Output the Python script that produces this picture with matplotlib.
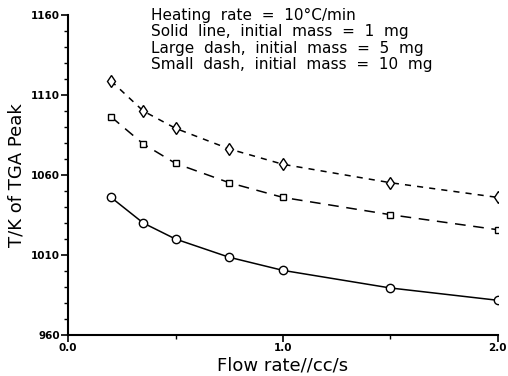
import numpy as np
import matplotlib
matplotlib.use("Agg")
import matplotlib.pyplot as plt
from matplotlib.ticker import FixedLocator

# flow rate (cc/s)
flow = [0.2, 0.35, 0.5, 0.75, 1.0, 1.5, 2.0]
# TGA peak temperature (K) for each initial mass
t_1mg = [1046, 1030, 1020, 1008.6, 1000.4, 989.4, 981.7]
t_5mg = [1096.4, 1079.4, 1067.3, 1055.2, 1046, 1035.2, 1025.8]
t_10mg = [1118.8, 1100, 1089.2, 1076.3, 1066.7, 1055.2, 1046]

notes = ["Heating  rate  =  10\u00b0C/min",
         "Solid  line,  initial  mass  =  1  mg",
         "Large  dash,  initial  mass  =  5  mg",
         "Small  dash,  initial  mass  =  10  mg"]

fig = plt.figure(figsize=(5.08, 3.76), dpi=100)
ax = fig.add_axes([0.134, 0.109, 0.846, 0.851])

base = dict(markerfacecolor="white", markeredgecolor="black",
            markeredgewidth=1.0, color="black", linewidth=1.1)
ax.plot(flow, t_1mg, "-", marker="o", markersize=6, **base)
ax.plot(flow, t_5mg, marker="s", dashes=(7, 5), markersize=5, **base)
ax.plot(flow, t_10mg, marker="d", dashes=(4, 4), markersize=6.5, **base)

ax.set_xlim(0, 2.0)
ax.set_ylim(960, 1160)
ax.spines["top"].set_visible(False)
ax.spines["right"].set_visible(False)
ax.spines["left"].set_linewidth(1.5)
ax.spines["bottom"].set_linewidth(1.5)

ax.xaxis.set_major_locator(FixedLocator([0.0, 1.0, 2.0]))
ax.xaxis.set_minor_locator(FixedLocator([0.5, 1.5]))
ax.yaxis.set_major_locator(FixedLocator([960, 1010, 1060, 1110, 1160]))
ax.yaxis.set_minor_locator(FixedLocator(np.arange(960, 1161, 10)))
ax.set_xticklabels(["0.0", "1.0", "2.0"])
ax.tick_params(axis="both", which="major", direction="out", length=5, width=1.2,
               labelsize=7.5, pad=1)
ax.tick_params(axis="both", which="minor", direction="out", length=3, width=1.0)
for lab in ax.get_xticklabels() + ax.get_yticklabels():
    lab.set_fontweight("bold")

ax.set_xlabel("Flow rate//cc/s", fontsize=13, labelpad=2)
ax.set_ylabel("T/K of TGA Peak", fontsize=13, labelpad=4)

for i, s in enumerate(notes):
    fig.text(0.297, 0.978 - i * 0.043, s, fontsize=11, va="top", ha="left")

fig.savefig("out.png", dpi=100)
